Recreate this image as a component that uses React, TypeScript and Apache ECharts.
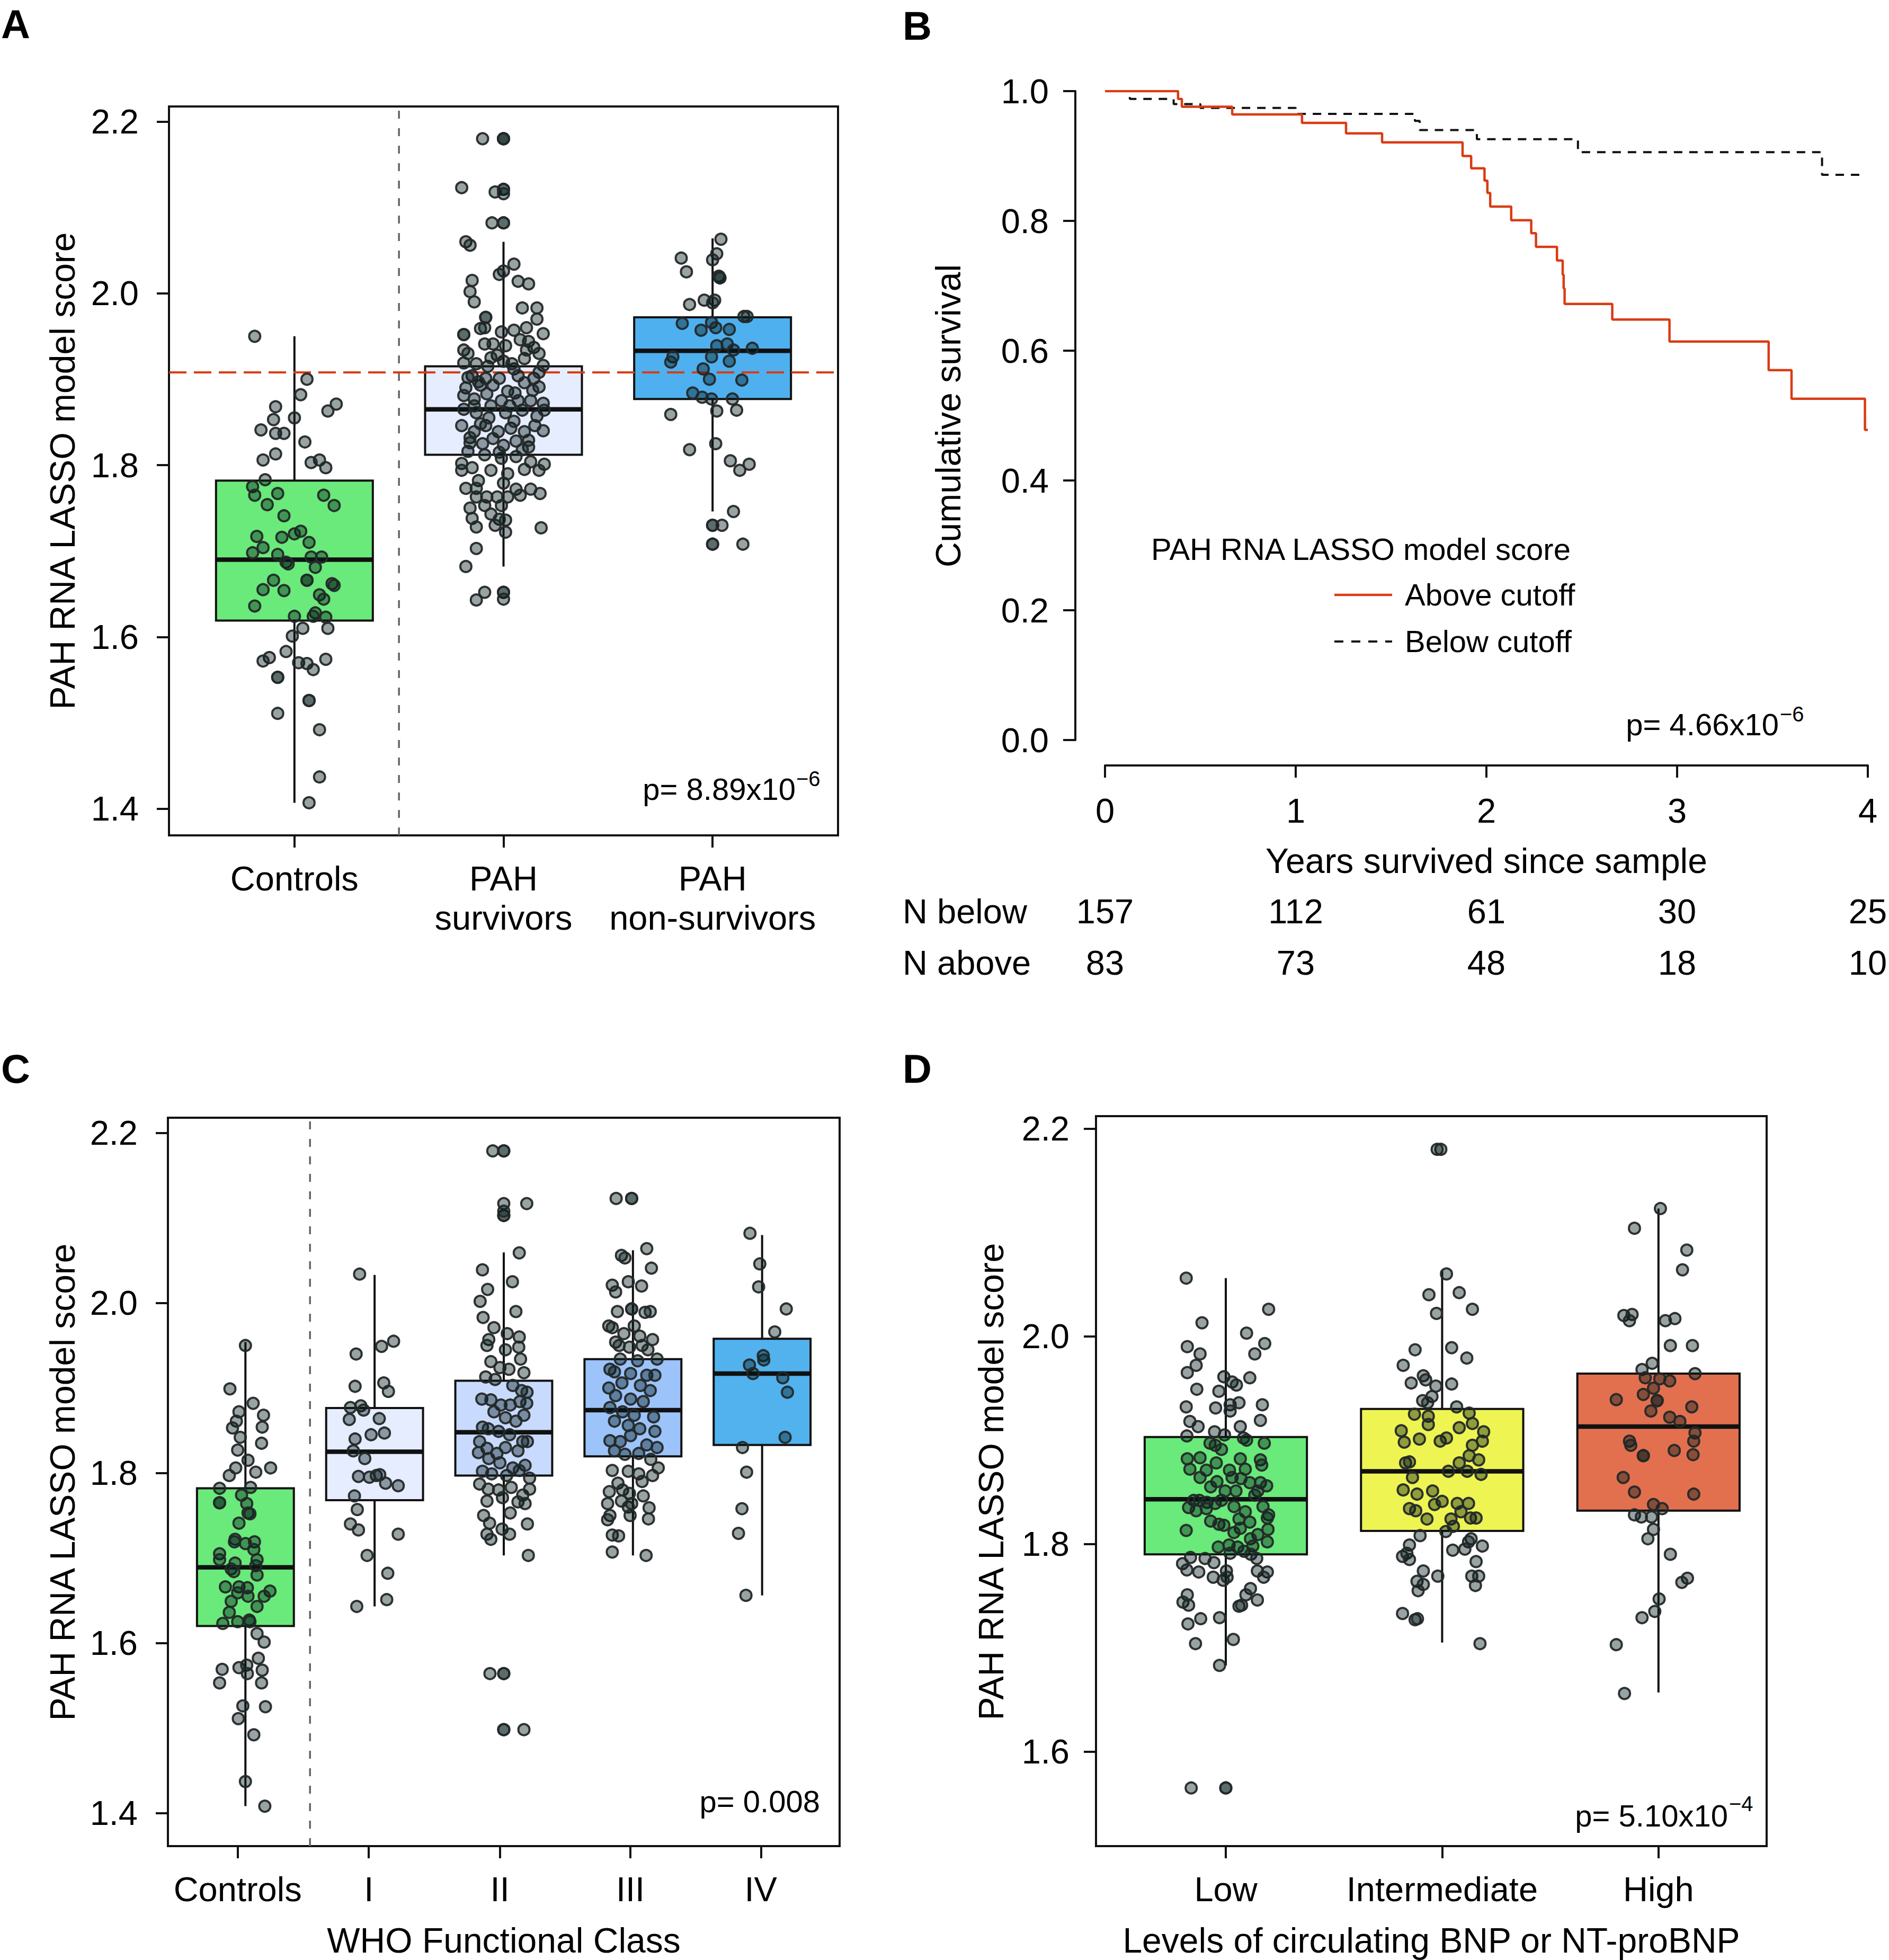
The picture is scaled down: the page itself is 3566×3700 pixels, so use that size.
import React, { useEffect, useRef } from "react";
import * as echarts from "echarts";

const FONT = "'Liberation Sans', Arial, Helvetica, sans-serif";
const RED = "#da3b14";
const INK = "#111111";
const PT_FILL = "rgba(0,25,25,0.4)";
const PT_EDGE = "rgba(36,40,40,0.95)";
const BOX_W = 0.75;

// ---------------- Panel A ----------------
const catsA = ["Controls", "PAH\nsurvivors", "PAH\nnon-survivors"];
// [lower whisker, Q1, median, Q3, upper whisker]
const boxA = [
  [1.407, 1.619, 1.69, 1.782, 1.95],
  [1.682, 1.812, 1.865, 1.915, 2.06],
  [1.746, 1.877, 1.933, 1.972, 2.064],
];
const cutoffA = 1.908;
const ticksScore = [1.4, 1.6, 1.8, 2.0, 2.2];
// [jitter, score]
const ctrlA = [
  [-0.19, 1.95], [0.06, 1.9], [0.03, 1.882], [0.2, 1.871], [0.16, 1.863], [-0.09, 1.868], [0.0, 1.855], [-0.1, 1.853],
  [-0.16, 1.841], [-0.09, 1.837], [-0.05, 1.837], [0.05, 1.827], [-0.09, 1.813], [-0.15, 1.806], [0.12, 1.806], [0.08, 1.803],
  [0.15, 1.797], [-0.14, 1.783], [-0.2, 1.775], [-0.19, 1.765], [-0.08, 1.767], [0.14, 1.765], [0.19, 1.753], [-0.13, 1.754],
  [-0.05, 1.741], [0.03, 1.723], [0.0, 1.72], [-0.18, 1.717], [-0.06, 1.716], [0.07, 1.71], [-0.15, 1.704], [-0.2, 1.698],
  [-0.08, 1.696], [0.08, 1.693], [0.13, 1.693], [-0.04, 1.687], [-0.03, 1.685], [0.1, 1.681], [-0.1, 1.666], [0.06, 1.666],
  [0.06, 1.666], [0.18, 1.662], [0.19, 1.66], [-0.15, 1.655], [-0.05, 1.654], [0.12, 1.649], [0.14, 1.644], [-0.19, 1.636],
  [0.0, 1.624], [0.1, 1.628], [0.09, 1.624], [0.15, 1.623], [0.16, 1.61], [0.04, 1.61], [-0.01, 1.601], [-0.04, 1.583],
  [-0.12, 1.576], [-0.15, 1.572], [0.15, 1.574], [0.02, 1.57], [0.06, 1.569], [0.09, 1.562], [-0.08, 1.553], [-0.08, 1.553],
  [0.07, 1.526], [0.07, 1.526], [-0.08, 1.511], [0.12, 1.492], [0.12, 1.437], [0.07, 1.407],
];
const survA = [
  [-0.1, 2.18], [0, 2.18], [0, 2.18], [0, 2.18], [-0.2, 2.123], [-0.04, 2.118], [0, 2.121], [0, 2.121], [0, 2.116],
  [-0.055, 2.082], [0, 2.082], [0, 2.082], [-0.18, 2.06], [-0.16, 2.056], [0.05, 2.034], [0, 2.026], [-0.02, 2.022],
  [-0.15, 2.015], [0.07, 2.014], [0.12, 2.011], [-0.16, 2.002], [-0.14, 1.99], [0.09, 1.983], [0.16, 1.983], [0.16, 1.97],
  [0.11, 1.96], [-0.085, 1.972], [-0.085, 1.972], [-0.11, 1.959], [-0.09, 1.96], [-0.01, 1.955], [0.05, 1.957],
  [-0.19, 1.952], [-0.19, 1.952], [0.19, 1.953], [-0.09, 1.941], [-0.05, 1.941], [0.01, 1.939], [0.12, 1.944],
  [0.145, 1.937], [-0.19, 1.934], [-0.17, 1.93], [0.17, 1.93], [0.1, 1.924], [0, 1.921], [-0.19, 1.919], [-0.13, 1.918],
  [-0.075, 1.915], [0.19, 1.916], [0.05, 1.912], [-0.15, 1.904], [-0.085, 1.901], [-0.02, 1.901], [0.07, 1.904],
  [0.145, 1.901], [-0.18, 1.89], [-0.11, 1.893], [-0.05, 1.893], [0.02, 1.886], [0.1, 1.896], [0.17, 1.891], [-0.19, 1.881],
  [-0.14, 1.877], [-0.08, 1.883], [-0.01, 1.875], [0.055, 1.884], [0.13, 1.875], [0.19, 1.872], [-0.19, 1.865],
  [-0.13, 1.861], [-0.06, 1.869], [0.01, 1.861], [0.09, 1.864], [0.16, 1.857], [0.195, 1.864], [-0.2, 1.846],
  [-0.14, 1.839], [-0.085, 1.846], [-0.025, 1.839], [0.035, 1.843], [0.1, 1.839], [0.19, 1.84], [-0.16, 1.832],
  [-0.1, 1.825], [-0.05, 1.831], [0, 1.823], [0.06, 1.828], [0.12, 1.821], [-0.17, 1.816], [-0.09, 1.812], [-0.01, 1.808],
  [0.06, 1.81], [0.13, 1.804], [0.195, 1.801], [-0.2, 1.802], [-0.2, 1.794], [-0.15, 1.797], [-0.06, 1.794], [0.02, 1.79],
  [0.1, 1.795], [0.17, 1.794], [-0.12, 1.782], [-0.18, 1.773], [-0.13, 1.773], [0, 1.779], [0.06, 1.772], [0.13, 1.772],
  [0.175, 1.767], [-0.13, 1.763], [-0.08, 1.763], [-0.03, 1.763], [0.02, 1.763], [0.08, 1.765], [-0.09, 1.753],
  [-0.16, 1.75], [-0.01, 1.753], [-0.15, 1.738], [-0.06, 1.743], [-0.02, 1.737], [-0.04, 1.73], [-0.13, 1.728],
  [0.01, 1.736], [0.01, 1.722], [0.18, 1.727], [-0.13, 1.703], [-0.18, 1.682], [-0.09, 1.652], [0, 1.652], [0, 1.652],
  [0, 1.644], [-0.13, 1.643], [0.04, 1.918], [-0.03, 1.928], [0.08, 1.946], [-0.12, 1.897], [0.14, 1.887], [-0.07, 1.855],
  [0.05, 1.851], [0.15, 1.846], [-0.11, 1.848], [0.12, 1.829], [-0.02, 1.815], [0.09, 1.818], [-0.16, 1.826], [0.03, 1.869],
  [0.17, 1.908], [-0.17, 1.902], [0.11, 1.934], [-0.06, 1.925], [0.07, 1.875], [-0.14, 1.869],
];
const nonSurvA = [
  [0.04, 2.063], [-0.15, 2.041], [0.02, 2.046], [0.0, 2.039], [-0.125, 2.025], [0.03, 2.02], [0.035, 2.018], [0.035, 2.018],
  [-0.11, 1.987], [-0.04, 1.992], [0.01, 1.992], [0.0, 1.989], [-0.145, 1.965], [-0.055, 1.957], [-0.005, 1.966],
  [0.015, 1.96], [0.08, 1.958], [0.15, 1.973], [0.165, 1.973], [0.02, 1.939], [0.07, 1.941], [0.19, 1.936], [0.1, 1.934],
  [-0.19, 1.926], [-0.2, 1.92], [-0.005, 1.926], [0.08, 1.921], [-0.045, 1.912], [-0.015, 1.9], [0.14, 1.899],
  [-0.095, 1.884], [-0.05, 1.879], [-0.005, 1.877], [0.095, 1.877], [-0.2, 1.859], [0.02, 1.863], [0.115, 1.864],
  [-0.11, 1.818], [0.015, 1.825], [0.085, 1.805], [0.175, 1.801], [0.13, 1.794], [0.1, 1.746], [0.0, 1.73], [0.0, 1.73],
  [0.045, 1.73], [0.0, 1.708], [0.0, 1.708], [0.145, 1.708],
];

// ---------------- Panel B ----------------
// [years, cumulative survival]
const kmAbove = [
  [0, 1], [0.383, 0.988], [0.403, 0.976], [0.667, 0.964], [1.033, 0.951], [1.264, 0.935], [1.453, 0.921],
  [1.875, 0.9], [1.92, 0.881], [1.99, 0.862], [2.005, 0.843], [2.02, 0.822], [2.13, 0.801], [2.235, 0.781],
  [2.26, 0.76], [2.37, 0.739], [2.4, 0.717], [2.405, 0.696], [2.41, 0.672], [2.66, 0.648], [2.96, 0.614],
  [3.48, 0.57], [3.6, 0.526], [3.985, 0.478], [4.0, 0.478],
];
const kmBelow = [
  [0, 1], [0.13, 0.988], [0.36, 0.98], [0.5, 0.974], [1.0, 0.965], [1.625, 0.954], [1.65, 0.94], [1.95, 0.926],
  [2.48, 0.906], [3.76, 0.871], [3.96, 0.871],
];
const nBelow = [157, 112, 61, 30, 25];
const nAbove = [83, 73, 48, 18, 10];

// ---------------- Panel C ----------------
const catsC = ["Controls", "I", "II", "III", "IV"];
const tickPosC = [0.94, 1.955, 2.97, 3.98, 4.99];
const boxC = [
  [1.408, 1.62, 1.689, 1.782, 1.954],
  [1.643, 1.768, 1.825, 1.8765, 2.033],
  [1.703, 1.797, 1.848, 1.9085, 2.0595],
  [1.703, 1.8195, 1.874, 1.934, 2.062],
  [1.656, 1.833, 1.917, 1.958, 2.08],
];
const ctrlC = [
  [0.0, 1.95], [-0.12, 1.899], [0.06, 1.882], [0.14, 1.868], [-0.05, 1.872], [-0.07, 1.861], [-0.1, 1.853], [0.13, 1.854],
  [-0.04, 1.842], [0.125, 1.835], [-0.06, 1.827], [0.02, 1.815], [0.195, 1.806], [-0.075, 1.806], [0.08, 1.801],
  [-0.125, 1.797], [-0.2, 1.782], [0.04, 1.783], [-0.2, 1.765], [-0.2, 1.765], [-0.03, 1.774], [0.01, 1.764], [0.02, 1.753],
  [0.035, 1.752], [-0.05, 1.741], [-0.08, 1.722], [-0.085, 1.719], [0.0, 1.717], [0.07, 1.719], [0.065, 1.71], [-0.2, 1.705],
  [-0.2, 1.698], [-0.08, 1.694], [0.09, 1.698], [0.08, 1.691], [-0.11, 1.687], [-0.09, 1.684], [0.09, 1.68], [-0.155, 1.666],
  [-0.05, 1.666], [0.015, 1.665], [-0.06, 1.659], [0.19, 1.661], [0.145, 1.655], [0.02, 1.655], [-0.11, 1.649], [0.09, 1.643],
  [-0.125, 1.636], [0.03, 1.627], [0.035, 1.625], [-0.175, 1.623], [-0.06, 1.625], [0.09, 1.611], [0.145, 1.601],
  [0.1, 1.582], [-0.18, 1.569], [-0.05, 1.571], [0.01, 1.574], [0.015, 1.564], [0.13, 1.568], [-0.2, 1.553], [0.125, 1.553],
  [-0.02, 1.526], [0.155, 1.525], [-0.055, 1.511], [0.065, 1.492], [0.0, 1.437], [0.15, 1.408],
];
const fc1 = [
  [-0.116, 2.034], [0.147, 1.955], [0.054, 1.949], [-0.143, 1.94], [-0.151, 1.902], [0.071, 1.906], [0.107, 1.896],
  [-0.187, 1.877], [-0.107, 1.879], [-0.085, 1.874], [-0.196, 1.863], [0.036, 1.864], [-0.027, 1.845], [0.076, 1.847],
  [-0.151, 1.84], [-0.165, 1.826], [-0.076, 1.817], [-0.125, 1.796], [-0.04, 1.795], [0.013, 1.797], [0.04, 1.798],
  [0.085, 1.788], [0.183, 1.785], [-0.156, 1.773], [-0.134, 1.757], [-0.187, 1.74], [-0.125, 1.733], [0.183, 1.728],
  [-0.058, 1.703], [0.102, 1.682], [-0.138, 1.643], [0.094, 1.651],
];
const fc2 = [
  [-0.085, 2.179], [0, 2.179], [0, 2.179], [0.178, 2.117], [0, 2.117], [0, 2.103], [0, 2.103], [0, 2.108], [0.12, 2.059],
  [-0.165, 2.039], [-0.125, 2.016], [0.067, 2.025], [-0.183, 2.002], [0.094, 1.99], [-0.16, 1.983], [-0.076, 1.971],
  [0.027, 1.964], [0.12, 1.96], [-0.116, 1.957], [-0.13, 1.95], [0.116, 1.948], [0.013, 1.945], [0.13, 1.934], [-0.1, 1.931],
  [-0.03, 1.924], [0.04, 1.922], [0.156, 1.918], [-0.14, 1.913], [-0.067, 1.91], [0.07, 1.903], [0.138, 1.897], [0.18, 1.895],
  [-0.17, 1.887], [-0.1, 1.886], [-0.022, 1.88], [0.05, 1.88], [0.125, 1.884], [0.178, 1.882], [-0.076, 1.872], [0.013, 1.865],
  [0.094, 1.861], [0.156, 1.868], [-0.165, 1.854], [-0.12, 1.852], [-0.04, 1.849], [0.045, 1.845], [0.147, 1.837],
  [-0.187, 1.837], [-0.13, 1.829], [-0.053, 1.823], [0.013, 1.83], [0.11, 1.826], [0.183, 1.837], [-0.196, 1.824],
  [-0.116, 1.817], [-0.03, 1.812], [0.07, 1.806], [0.165, 1.809], [-0.165, 1.802], [-0.094, 1.799], [0.022, 1.797],
  [0.12, 1.803], [0.2, 1.794], [-0.187, 1.787], [-0.12, 1.781], [-0.04, 1.78], [0.058, 1.783], [0.147, 1.774], [0.2, 1.781],
  [-0.13, 1.767], [-0.01, 1.771], [0.11, 1.766], [0.165, 1.764], [0.05, 1.753], [-0.156, 1.75], [0.183, 1.74], [-0.11, 1.741],
  [-0.013, 1.734], [0.045, 1.728], [-0.13, 1.728], [-0.1, 1.722], [0.19, 1.703], [-0.107, 1.564], [0, 1.564], [0, 1.564],
  [0, 1.498], [0, 1.498], [0.156, 1.498],
];
const fc3 = [
  [-0.13, 2.123], [-0.01, 2.123], [-0.01, 2.123], [0.107, 2.064], [-0.089, 2.056], [-0.062, 2.053], [0.143, 2.041],
  [-0.16, 2.021], [-0.036, 2.025], [0.067, 2.02], [-0.134, 2.013], [-0.12, 1.99], [-0.01, 1.993], [-0.01, 1.993],
  [0.094, 1.989], [0.134, 1.99], [-0.187, 1.973], [-0.16, 1.971], [0.01, 1.973], [-0.07, 1.964], [0.053, 1.961],
  [0.152, 1.957], [-0.134, 1.954], [-0.107, 1.95], [-0.027, 1.948], [0.071, 1.95], [0.116, 1.945], [0.187, 1.934],
  [-0.098, 1.934], [0.036, 1.932], [-0.178, 1.922], [-0.143, 1.919], [-0.018, 1.917], [0.107, 1.915], [0.17, 1.915],
  [-0.085, 1.906], [0.058, 1.903], [-0.187, 1.9], [0.134, 1.897], [-0.134, 1.891], [-0.018, 1.887], [0.08, 1.884],
  [-0.178, 1.877], [-0.08, 1.872], [0.01, 1.868], [0.16, 1.866], [-0.143, 1.861], [-0.036, 1.856], [0.053, 1.852],
  [0.17, 1.849], [-0.178, 1.838], [-0.098, 1.837], [-0.018, 1.844], [0.107, 1.833], [0.187, 1.83], [-0.143, 1.826],
  [-0.062, 1.822], [0.045, 1.823], [0.138, 1.816], [-0.16, 1.803], [-0.036, 1.802], [0.045, 1.799], [0.152, 1.797],
  [0.196, 1.806], [-0.116, 1.788], [0.071, 1.79], [-0.183, 1.778], [-0.08, 1.78], [-0.027, 1.776], [0.08, 1.773],
  [-0.196, 1.764], [-0.089, 1.767], [-0.036, 1.76], [0.125, 1.759], [-0.01, 1.764], [-0.178, 1.75], [-0.022, 1.75],
  [0.12, 1.746], [-0.196, 1.745], [-0.16, 1.727], [-0.111, 1.726], [-0.16, 1.707], [0.102, 1.703],
];
const fc4 = [
  [-0.094, 2.082], [-0.018, 2.046], [-0.027, 2.019], [0.187, 1.993], [0.098, 1.966], [0.009, 1.938], [0.013, 1.933],
  [-0.098, 1.927], [-0.071, 1.917], [0.16, 1.912], [0.196, 1.895], [0.178, 1.842], [-0.152, 1.83], [-0.12, 1.801],
  [-0.156, 1.758], [-0.183, 1.729], [-0.125, 1.656],
];

// ---------------- Panel D ----------------
const catsD = ["Low", "Intermediate", "High"];
const ticksD = [1.6, 1.8, 2.0, 2.2];
const boxD = [
  [1.683, 1.79, 1.843, 1.903, 2.056],
  [1.705, 1.8125, 1.87, 1.93, 2.063],
  [1.657, 1.832, 1.913, 1.964, 2.123],
];
const bnpLow = [
  [-0.183, 2.056], [-0.11, 2.013], [0.198, 2.026], [0.096, 2.003], [0.18, 1.993], [-0.178, 1.99], [-0.119, 1.983],
  [0.134, 1.983], [-0.137, 1.972], [-0.178, 1.965], [-0.009, 1.961], [0.029, 1.956], [0.111, 1.96], [0.049, 1.953],
  [-0.134, 1.949], [-0.032, 1.947], [0.169, 1.934], [0.02, 1.934], [0.061, 1.936], [-0.183, 1.932], [-0.047, 1.931],
  [0.02, 1.928], [0.16, 1.919], [-0.166, 1.918], [0.067, 1.913], [-0.128, 1.913], [-0.052, 1.908], [-0.006, 1.905],
  [-0.18, 1.904], [0.082, 1.902], [0.096, 1.9], [0.178, 1.897], [-0.073, 1.897], [-0.049, 1.895], [-0.02, 1.891],
  [-0.119, 1.883], [-0.178, 1.882], [0.067, 1.882], [0.16, 1.881], [0.166, 1.876], [-0.166, 1.872], [-0.044, 1.878],
  [-0.09, 1.871], [0.017, 1.871], [0.09, 1.872], [-0.119, 1.864], [0.029, 1.864], [0.07, 1.863], [-0.041, 1.86],
  [0.111, 1.859], [0.16, 1.859], [0.189, 1.856], [0.148, 1.851], [-0.07, 1.855], [-0.003, 1.851], [0.047, 1.851],
  [0.134, 1.847], [-0.148, 1.842], [-0.122, 1.842], [-0.087, 1.84], [-0.049, 1.839], [-0.02, 1.842], [0.038, 1.836],
  [0.172, 1.836], [-0.172, 1.835], [-0.137, 1.832], [-0.09, 1.834], [0.09, 1.831], [0.198, 1.828], [0.192, 1.825],
  [0.061, 1.824], [-0.07, 1.822], [-0.032, 1.819], [-0.009, 1.818], [0.111, 1.821], [-0.183, 1.813], [0.067, 1.815],
  [0.195, 1.814], [0.038, 1.811], [0.148, 1.809], [0.114, 1.805], [0.192, 1.802], [0.015, 1.799], [-0.035, 1.797],
  [0.055, 1.797], [0.125, 1.798], [0.084, 1.793], [0.02, 1.791], [0.116, 1.79], [0.143, 1.786], [-0.163, 1.787],
  [-0.2, 1.781], [-0.096, 1.786], [-0.055, 1.782], [-0.18, 1.775], [-0.125, 1.773], [0.003, 1.774], [0.146, 1.774],
  [0.192, 1.773], [0.175, 1.768], [-0.058, 1.768], [-0.012, 1.765], [0.006, 1.768], [0.114, 1.757], [0.093, 1.751],
  [-0.178, 1.751], [0.146, 1.746], [-0.198, 1.744], [-0.172, 1.741], [0.061, 1.74], [0.073, 1.741], [-0.116, 1.728],
  [-0.029, 1.729], [-0.175, 1.723], [0.035, 1.708], [-0.14, 1.704], [-0.029, 1.683], [-0.16, 1.565], [0.0, 1.565],
  [0.0, 1.565],
];
const bnpInt = [
  [-0.006, 2.18], [-0.023, 2.18], [0.02, 2.06], [-0.061, 2.04], [0.079, 2.042], [0.14, 2.026], [-0.026, 2.022],
  [-0.125, 1.987], [0.044, 1.989], [0.114, 1.979], [-0.18, 1.972], [-0.087, 1.962], [-0.076, 1.958], [-0.143, 1.955],
  [0.044, 1.954], [-0.029, 1.952], [-0.047, 1.942], [-0.09, 1.938], [-0.067, 1.936], [0.067, 1.932], [-0.128, 1.925],
  [0.125, 1.926], [-0.064, 1.923], [0.14, 1.916], [-0.064, 1.915], [0.079, 1.912], [-0.189, 1.909], [-0.105, 1.901],
  [-0.175, 1.898], [-0.009, 1.899], [0.02, 1.902], [0.14, 1.895], [0.186, 1.899], [0.192, 1.908], [0.125, 1.885],
  [0.169, 1.881], [0.079, 1.878], [-0.169, 1.878], [-0.151, 1.879], [0.029, 1.87], [0.116, 1.87], [0.18, 1.867],
  [-0.137, 1.864], [-0.18, 1.852], [-0.044, 1.851], [-0.116, 1.848], [0.0, 1.841], [0.07, 1.839], [0.122, 1.839],
  [-0.035, 1.838], [-0.151, 1.834], [0.087, 1.831], [-0.122, 1.832], [-0.07, 1.824], [0.041, 1.824], [0.131, 1.825],
  [0.157, 1.825], [0.052, 1.817], [0.017, 1.812], [-0.102, 1.808], [0.134, 1.805], [0.122, 1.802], [-0.151, 1.799],
  [0.186, 1.798], [0.105, 1.795], [0.049, 1.794], [-0.183, 1.788], [-0.163, 1.791], [-0.151, 1.785], [0.157, 1.783],
  [-0.087, 1.774], [-0.02, 1.769], [0.137, 1.769], [0.169, 1.769], [-0.116, 1.764], [-0.087, 1.761], [-0.111, 1.755],
  [0.154, 1.76], [-0.183, 1.733], [-0.125, 1.727], [-0.114, 1.728], [0.175, 1.704],
];
const bnpHigh = [
  [0.009, 2.123], [-0.111, 2.104], [0.131, 2.083], [0.111, 2.064], [-0.16, 2.02], [-0.122, 2.021], [-0.134, 2.015],
  [0.032, 2.015], [0.076, 2.017], [0.055, 1.991], [0.157, 1.991], [-0.029, 1.974], [-0.076, 1.968], [0.169, 1.964],
  [-0.061, 1.96], [0.006, 1.959], [0.052, 1.957], [-0.023, 1.95], [-0.195, 1.939], [-0.07, 1.944], [-0.006, 1.938],
  [-0.006, 1.938], [-0.035, 1.928], [0.154, 1.932], [0.052, 1.922], [0.099, 1.918], [0.169, 1.907], [0.163, 1.899],
  [-0.134, 1.899], [-0.128, 1.895], [0.073, 1.89], [0.16, 1.886], [-0.07, 1.885], [-0.07, 1.885], [-0.163, 1.864],
  [-0.111, 1.85], [0.163, 1.848], [-0.023, 1.838], [0.017, 1.834], [-0.111, 1.828], [-0.079, 1.826], [-0.032, 1.826],
  [-0.023, 1.814], [-0.049, 1.805], [0.055, 1.79], [0.134, 1.767], [0.108, 1.763], [0.003, 1.747], [-0.017, 1.735],
  [-0.076, 1.729], [-0.195, 1.703], [-0.157, 1.656],
];

// ---------------- styles (kept apart from data) ----------------
const colorsA = ["#69ea7a", "#e6edff", "#4eb0ef"];
const colorsC = ["#69ea7a", "#e6edff", "#c8dbff", "#9cc4fa", "#51b2ee"];
const colorsD = ["#69ea7a", "#eef552", "#e2704f"];

const tickStyle = { show: true, length: 23, inside: false, lineStyle: { color: INK, width: 4 } };
const labelBase = { color: "#000", fontSize: 65, fontFamily: FONT };
const gridBox = { show: true, borderColor: INK, borderWidth: 4, backgroundColor: "transparent", containLabel: false, outerBoundsMode: "none" };

function catXAxis(gridIndex: number, min: number, max: number, ticks: number[], labels: string[]) {
  return {
    gridIndex, type: "value", min, max, position: "bottom",
    axisLine: { show: false, onZero: false },
    axisTick: { ...tickStyle, customValues: ticks },
    axisLabel: {
      ...labelBase, customValues: ticks, margin: 44, lineHeight: 74,
      formatter: (v: number) => labels[Math.round(v) - 1],
    },
    splitLine: { show: false },
  };
}
function scoreYAxis(gridIndex: number, min: number, max: number, ticks: number[], margin: number) {
  return {
    gridIndex, type: "value", min, max, position: "left",
    axisLine: { show: false, onZero: false },
    axisTick: { ...tickStyle, customValues: ticks },
    axisLabel: { ...labelBase, customValues: ticks, margin, formatter: (v: number) => v.toFixed(1) },
    splitLine: { show: false },
  };
}
function boxSeries(idx: number, stats: number[][], colors: string[]) {
  return {
    type: "custom", xAxisIndex: idx, yAxisIndex: idx, z: 2, silent: true,
    data: stats.map((s, i) => [i + 1, ...s]),
    encode: { x: 0, y: [1, 2, 3, 4, 5] },
    renderItem: (params: any, api: any) => {
      const x = api.value(0);
      const lo = api.coord([x, api.value(1)]);
      const q1 = api.coord([x, api.value(2)]);
      const md = api.coord([x, api.value(3)]);
      const q3 = api.coord([x, api.value(4)]);
      const hi = api.coord([x, api.value(5)]);
      const hw = api.size([BOX_W, 0])[0] / 2;
      const cx = md[0];
      return {
        type: "group",
        children: [
          { type: "line", shape: { x1: cx, y1: hi[1], x2: cx, y2: q3[1] }, style: { stroke: INK, lineWidth: 4 } },
          { type: "line", shape: { x1: cx, y1: q1[1], x2: cx, y2: lo[1] }, style: { stroke: INK, lineWidth: 4 } },
          {
            type: "rect", shape: { x: cx - hw, y: q3[1], width: hw * 2, height: q1[1] - q3[1] },
            style: { fill: colors[params.dataIndex], stroke: INK, lineWidth: 4 },
          },
          { type: "line", shape: { x1: cx - hw, y1: md[1], x2: cx + hw, y2: md[1] }, style: { stroke: INK, lineWidth: 8.5 } },
        ],
      };
    },
  };
}
function jitterSeries(idx: number, groups: number[][][]) {
  const data: number[][] = [];
  groups.forEach((g, gi) => g.forEach((p) => data.push([gi + 1 + p[0], p[1]])));
  return {
    type: "scatter", xAxisIndex: idx, yAxisIndex: idx, z: 5, silent: true, symbol: "circle", symbolSize: 21,
    itemStyle: { color: PT_FILL, borderColor: PT_EDGE, borderWidth: 4, opacity: 1 },
    data,
  };
}
function txt(text: string, x: number, y: number, o: any = {}) {
  return {
    type: "text", x, y, rotation: o.rotation || 0, silent: true, z: 100,
    style: {
      text, fill: "#000", fontFamily: FONT, fontSize: o.size || 65, fontWeight: o.weight || "normal",
      align: o.align || "center", verticalAlign: "middle",
    },
  };
}

const yA = [1.369, 2.2175];
const yC = [1.361, 2.218];
const yD = [1.509, 2.212];

const option: any = {
  animation: false,
  backgroundColor: "#ffffff",
  grid: [
    { ...gridBox, left: 319, top: 201, width: 1263, height: 1376 },
    { left: 2086, top: 172, width: 1440, height: 1225, show: false, containLabel: false, outerBoundsMode: "none" },
    { ...gridBox, left: 317, top: 2110, width: 1268, height: 1375 },
    { ...gridBox, left: 2069, top: 2107, width: 1266, height: 1378 },
  ],
  xAxis: [
    catXAxis(0, 0.4, 3.6, [1, 2, 3], catsA),
    {
      gridIndex: 1, type: "value", min: 0, max: 4, interval: 1, position: "bottom", offset: 48,
      axisLine: { show: true, onZero: false, lineStyle: { color: INK, width: 4 } },
      axisTick: tickStyle,
      axisLabel: { ...labelBase, margin: 48, lineHeight: 74 },
      splitLine: { show: false },
    },
    catXAxis(2, 0.4, 5.6, tickPosC, catsC),
    catXAxis(3, 0.4, 3.5, [1, 2, 3], catsD),
    {
      gridIndex: 1, type: "value", min: 0, max: 4, interval: 1, position: "bottom", offset: 240,
      axisLine: { show: false, onZero: false }, axisTick: { show: false },
      axisLabel: { ...labelBase, margin: 46, lineHeight: 74, formatter: (v: number) => String(nBelow[Math.round(v)]) },
      splitLine: { show: false },
    },
    {
      gridIndex: 1, type: "value", min: 0, max: 4, interval: 1, position: "bottom", offset: 337,
      axisLine: { show: false, onZero: false }, axisTick: { show: false },
      axisLabel: { ...labelBase, margin: 46, lineHeight: 74, formatter: (v: number) => String(nAbove[Math.round(v)]) },
      splitLine: { show: false },
    },
  ],
  yAxis: [
    scoreYAxis(0, yA[0], yA[1], ticksScore, 57),
    {
      gridIndex: 1, type: "value", min: 0, max: 1, interval: 0.2, position: "left", offset: 56,
      axisLine: { show: true, onZero: false, lineStyle: { color: INK, width: 4 } },
      axisTick: tickStyle,
      axisLabel: { ...labelBase, margin: 50, formatter: (v: number) => v.toFixed(1) },
      splitLine: { show: false },
    },
    scoreYAxis(2, yC[0], yC[1], ticksScore, 57),
    scoreYAxis(3, yD[0], yD[1], ticksD, 50),
  ],
  series: [
    // Panel A
    boxSeries(0, boxA, colorsA),
    {
      type: "line", xAxisIndex: 0, yAxisIndex: 0, z: 3, silent: true, symbol: "none",
      data: [[1.5, yA[0]], [1.5, yA[1]]],
      lineStyle: { color: "#5f6769", width: 3.5, type: [15, 18] },
    },
    {
      type: "line", xAxisIndex: 0, yAxisIndex: 0, z: 3, silent: true, symbol: "none",
      data: [[0.4, cutoffA], [3.6, cutoffA]],
      lineStyle: { color: RED, width: 4, type: [33, 14] },
    },
    jitterSeries(0, [ctrlA, survA, nonSurvA]),
    // Panel B
    {
      type: "line", name: "Below cutoff", xAxisIndex: 1, yAxisIndex: 1, z: 3, silent: true, symbol: "none", step: "end",
      data: kmBelow, lineStyle: { color: INK, width: 4, type: [16, 13] },
    },
    {
      type: "line", name: "Above cutoff", xAxisIndex: 1, yAxisIndex: 1, z: 4, silent: true, symbol: "none", step: "end",
      data: kmAbove, lineStyle: { color: RED, width: 4.5 },
    },
    // Panel C
    boxSeries(2, boxC, colorsC),
    {
      type: "line", xAxisIndex: 2, yAxisIndex: 2, z: 3, silent: true, symbol: "none",
      data: [[1.5, yC[0]], [1.5, yC[1]]],
      lineStyle: { color: "#5f6769", width: 3.5, type: [15, 18] },
    },
    jitterSeries(2, [ctrlC, fc1, fc2, fc3, fc4]),
    // Panel D
    boxSeries(3, boxD, colorsD),
    jitterSeries(3, [bnpLow, bnpInt, bnpHigh]),
  ],
  graphic: [
    // panel letters
    txt("A", 2, 45, { align: "left", size: 76, weight: "bold" }),
    txt("B", 1704, 48, { align: "left", size: 76, weight: "bold" }),
    txt("C", 2, 2017, { align: "left", size: 76, weight: "bold" }),
    txt("D", 1704, 2017, { align: "left", size: 76, weight: "bold" }),
    // axis titles
    txt("PAH RNA LASSO model score", 118, 889, { rotation: Math.PI / 2, size: 66 }),
    txt("Cumulative survival", 1790, 785, { rotation: Math.PI / 2, size: 66 }),
    txt("PAH RNA LASSO model score", 118, 2798, { rotation: Math.PI / 2, size: 66 }),
    txt("PAH RNA LASSO model score", 1871, 2797, { rotation: Math.PI / 2, size: 66 }),
    txt("Years survived since sample", 2806, 1625, { size: 66 }),
    txt("WHO Functional Class", 951, 3663, { size: 66 }),
    txt("Levels of circulating BNP or NT-proBNP", 2702, 3663, { size: 66 }),
    // risk table row names
    txt("N below", 1704, 1720, { align: "left", size: 65 }),
    txt("N above", 1704, 1817, { align: "left", size: 65 }),
    // p-values
    txt("p= 8.89x10", 1502, 1489, { align: "right", size: 58 }),
    txt("\u22126", 1503, 1470, { align: "left", size: 40 }),
    txt("p= 4.66x10", 3358, 1367, { align: "right", size: 58 }),
    txt("\u22126", 3360, 1348, { align: "left", size: 40 }),
    txt("p= 0.008", 1548, 3400, { align: "right", size: 58 }),
    txt("p= 5.10x10", 3262, 3427, { align: "right", size: 58 }),
    txt("\u22124", 3264, 3405, { align: "left", size: 40 }),
    // legend of panel B
    txt("PAH RNA LASSO model score", 2173, 1036, { align: "left", size: 58 }),
    { type: "line", silent: true, z: 100, shape: { x1: 2519, y1: 1123, x2: 2628, y2: 1123 }, style: { stroke: RED, lineWidth: 4.5 } },
    txt("Above cutoff", 2652, 1122, { align: "left", size: 58 }),
    {
      type: "line", silent: true, z: 100, shape: { x1: 2519, y1: 1211, x2: 2628, y2: 1211 },
      style: { stroke: INK, lineWidth: 4, lineDash: [17, 15] },
    },
    txt("Below cutoff", 2652, 1210, { align: "left", size: 58 }),
  ],
};

export default function App() {
  const ref = useRef<HTMLDivElement>(null);
  useEffect(() => {
    document.body.style.margin = "0";
    const chart = echarts.init(ref.current as HTMLDivElement, null, { renderer: "svg", width: 3566, height: 3700 });
    chart.setOption(option);
    return () => chart.dispose();
  }, []);
  return <div ref={ref} style={{ width: 3566, height: 3700, background: "#fff" }} />;
}
